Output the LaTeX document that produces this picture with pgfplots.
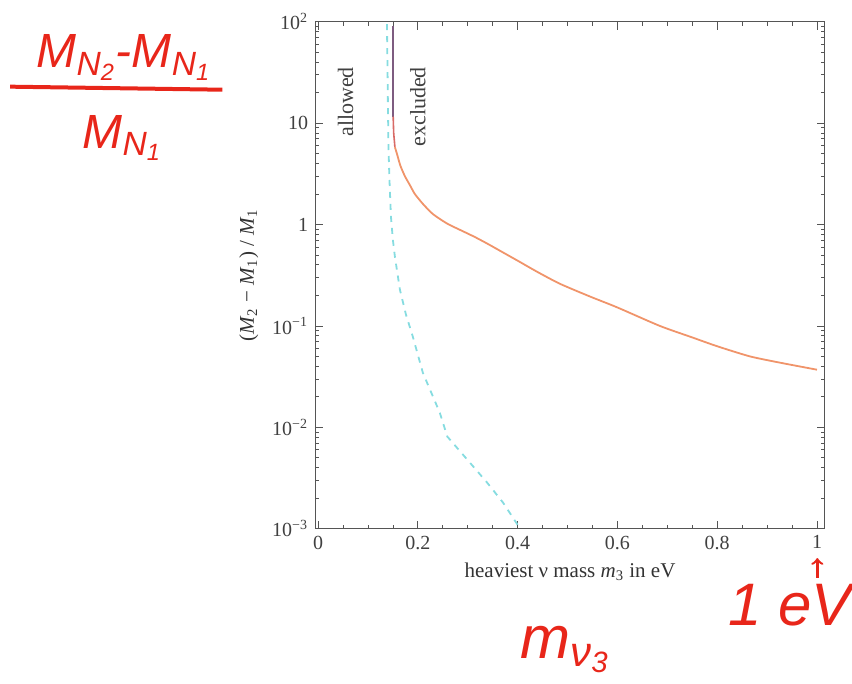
\documentclass[border=0pt]{standalone}
\usepackage{fontspec}
\setmainfont{Liberation Serif}
\newfontfamily\hand{Liberation Sans}[UprightFont=*-Italic]
\usepackage{pgfplots}
\pgfplotsset{compat=1.18}

\definecolor{framegray}{HTML}{555555}
\definecolor{curveorange}{HTML}{F0946A}
\definecolor{curvered}{HTML}{D86A66}
\definecolor{curvepurple}{HTML}{7E5C80}
\definecolor{curvecyan}{HTML}{86DCE0}
\definecolor{inkred}{HTML}{E8261A}

\begin{document}
\begin{tikzpicture}
\begin{axis}[
  width=255pt, height=253.5pt, scale only axis,
  ymode=log,
  xmin=-0.006, xmax=1.016,
  ymin=1e-3, ymax=100,
  axis line style={framegray, line width=0.5pt},
  tick style={framegray, line width=0.4pt},
  tick align=inside,
  major tick length=4pt, minor tick length=2pt,
  xtick={0,0.2,0.4,0.6,0.8,1},
  xticklabels={0,0.2,0.4,0.6,0.8,1},
  minor x tick num=3,
  ytick={1e-3,1e-2,1e-1,1,10,100},
  yticklabels={10\textsuperscript{−3},10\textsuperscript{−2},10\textsuperscript{−1},1,10,10\textsuperscript{2}},
  tick label style={font=\fontsize{10}{12}\selectfont, text=black!75},
  xlabel={heaviest ν mass \textit{m}\textsubscript{3} in eV},
  ylabel={(\textit{M}\textsubscript{2} − \textit{M}\textsubscript{1}) / \textit{M}\textsubscript{1}},
  label style={font=\fontsize{10.5}{12}\selectfont, text=black!80},
  clip=false,
]
% excluded boundary, coloured segments
\addplot[curvepurple, line width=0.7pt] coordinates {
  (0.1505,90) (0.1505,30) (0.1505,11.6)
};
\addplot[curvered, line width=0.8pt] coordinates {
  (0.1505,11.6) (0.1515,8) (0.154,5.8)
};
\addplot[curveorange, line width=0.9pt, smooth, tension=0.4] coordinates {
  (0.154,5.8) (0.158,5) (0.165,3.8) (0.174,3) (0.185,2.4) (0.194,2.0)
  (0.210,1.6) (0.230,1.27) (0.259,1.02) (0.290,0.86) (0.315,0.75)
  (0.340,0.645) (0.365,0.55) (0.40,0.44) (0.44,0.34) (0.485,0.26)
  (0.545,0.195) (0.60,0.152) (0.685,0.10) (0.75,0.077) (0.80,0.063)
  (0.866,0.05) (0.93,0.043) (1.0,0.037)
};
% second boundary, dashed
\addplot[curvecyan, line width=0.9pt, dashed] coordinates {
  (0.138,95) (0.139,40) (0.140,15) (0.141,6) (0.143,2.8) (0.146,1.2)
  (0.150,0.7) (0.154,0.48) (0.164,0.228) (0.176,0.13) (0.190,0.078)
  (0.210,0.0345) (0.244,0.0139) (0.259,0.0081) (0.299,0.0048)
  (0.339,0.00284) (0.371,0.0018) (0.405,0.001)
};

\node[rotate=90, anchor=east, font=\fontsize{11}{13}\selectfont, text=black!75]
  at (axis cs:0.055,42) {allowed};
\node[rotate=90, anchor=east, font=\fontsize{11}{13}\selectfont, text=black!75]
  at (axis cs:0.200,42) {excluded};

% handwritten notes
\node[inkred, font=\hand\fontsize{24}{28}\selectfont]
  at (rel axis cs:-0.375,0.929) {M\textsubscript{N\textsubscript{2}}-M\textsubscript{N\textsubscript{1}}};
\draw[inkred, line width=2pt] (rel axis cs:-0.598,0.872) -- (rel axis cs:-0.182,0.866);
\node[inkred, font=\hand\fontsize{24}{28}\selectfont]
  at (rel axis cs:-0.378,0.771) {M\textsubscript{N\textsubscript{1}}};
\node[inkred, font=\hand\fontsize{30}{34}\selectfont]
  at (rel axis cs:0.931,-0.150) {1 eV};
\draw[inkred, line width=1.2pt, ->] (rel axis cs:0.985,-0.097) -- (rel axis cs:0.985,-0.058);
\node[inkred, font=\hand\fontsize{30}{34}\selectfont]
  at (rel axis cs:0.490,-0.239) {m\textsubscript{ν\textsubscript{3}}};

\coordinate (bbA) at (rel axis cs:-0.618,1.043);
\coordinate (bbB) at (rel axis cs:1.053,-0.306);
\end{axis}
\pgfresetboundingbox
\path[use as bounding box] (bbA) rectangle (bbB);
\end{tikzpicture}
\end{document}
